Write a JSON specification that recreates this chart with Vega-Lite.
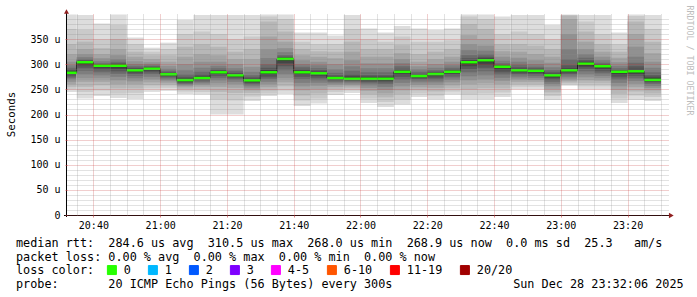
{
"$schema":"https://vega.github.io/schema/vega-lite/v6.json",
"width":601,"height":201,
"autosize":{"type":"none"},
"padding":{"left":67,"top":14,"right":29,"bottom":82},
"background":"#ffffff",
"config":{"view":{"stroke":null},"font":"DejaVu Sans Mono"},
"title":{
 "text":["median\u00a0rtt:\u00a0\u00a0284.6\u00a0us\u00a0avg\u00a0\u00a0310.5\u00a0us\u00a0max\u00a0\u00a0268.0\u00a0us\u00a0min\u00a0\u00a0268.9\u00a0us\u00a0now\u00a0\u00a00.0\u00a0ms\u00a0sd\u00a0\u00a025.3\u00a0\u00a0\u00a0am/s",
 "packet\u00a0loss:\u00a00.00\u00a0%\u00a0avg\u00a0\u00a00.00\u00a0%\u00a0max\u00a0\u00a00.00\u00a0%\u00a0min\u00a0\u00a00.00\u00a0%\u00a0now"],
 "subtitle":"probe:\u00a0\u00a0\u00a0\u00a0\u00a0\u00a0\u00a020\u00a0ICMP\u00a0Echo\u00a0Pings\u00a0(56\u00a0Bytes)\u00a0every\u00a0300s\u00a0\u00a0\u00a0\u00a0\u00a0\u00a0\u00a0\u00a0\u00a0\u00a0\u00a0\u00a0\u00a0\u00a0\u00a0\u00a0\u00a0Sun\u00a0Dec\u00a028\u00a023:32:06\u00a02025",
 "subtitleFont":"DejaVu Sans Mono","subtitleFontSize":11.8,"subtitleFontWeight":"normal","subtitleColor":"#000000","subtitlePadding":15.5,"subtitleLineHeight":13.8,
 "orient":"bottom","anchor":"start","frame":"group","dx":-51,"dy":-46.5,"offset":7,
 "font":"DejaVu Sans Mono","fontSize":11.8,"fontWeight":"normal","color":"#000000","lineHeight":14,"baseline":"top"
},
"datasets":{
 "smoke":[
  {"s":30,"e":35,"k":[1,2,3,4,5,6,7,8,9,10],"l":[245,250,255,260,265,270,273,276,279,281],"h":[399,370,340,320,305,298,293,290,287,285]},
  {"s":35,"e":40,"k":[1,2,3,4,5,6,7,8,9,10],"l":[232,245,255,265,272,280,287,293,298,301],"h":[398,368,345,330,320,314,310,308,306,305]},
  {"s":40,"e":45,"k":[1,2,3,4,5,6,7,8,9,10],"l":[237,248,258,265,272,278,284,288,292,295],"h":[381,350,332,320,312,306,302,300,299,298]},
  {"s":45,"e":50,"k":[1,2,3,4,5,6,7,8,9,10],"l":[233,242,252,260,268,275,281,286,290,294],"h":[399,378,350,330,318,310,305,302,300,299]},
  {"s":50,"e":55,"k":[1,2,3,4,5,6,7,8,9,10],"l":[231,243,252,260,266,272,277,281,284,286],"h":[353,340,325,315,306,300,296,293,291,290]},
  {"s":55,"e":60,"k":[1,2,3,4,5,6,7,8,9,10],"l":[245,252,258,264,270,275,280,284,287,289],"h":[333,325,318,310,304,300,297,295,293,292]},
  {"s":60,"e":65,"k":[1,2,3,4,5,6,7,8,9,10],"l":[247,253,258,262,266,269,272,275,277,279],"h":[343,330,318,305,297,291,287,284,282,281]},
  {"s":65,"e":70,"k":[1,2,3,4,5,6,7,8,9,10],"l":[241,246,250,254,257,259,261,263,265,267],"h":[388,360,335,315,300,288,280,275,272,270]},
  {"s":70,"e":75,"k":[1,2,3,4,5,6,7,8,9,10],"l":[240,245,250,255,259,262,265,268,270,271],"h":[398,365,340,320,305,293,285,280,276,274]},
  {"s":75,"e":80,"k":[1,2,3,4,5,6,7,8,9,10],"l":[200,230,245,255,262,268,273,277,280,282],"h":[398,360,335,318,305,297,292,289,287,286]},
  {"s":80,"e":85,"k":[1,2,3,4,5,6,7,8,9,10],"l":[200,228,243,253,260,265,269,272,275,276],"h":[398,350,325,310,300,292,287,283,281,280]},
  {"s":85,"e":90,"k":[1,2,3,4,5,6,7,8,9,10],"l":[227,236,243,248,252,256,259,262,264,266],"h":[398,355,330,310,295,285,278,274,271,270]},
  {"s":90,"e":95,"k":[1,2,3,4,5,6,7,8,9,10],"l":[237,242,248,254,260,265,270,274,278,281],"h":[399,395,385,355,330,312,300,293,289,287]},
  {"s":95,"e":100,"k":[1,2,3,4,5,6,7,8,9,10],"l":[241,248,256,264,272,280,288,296,302,307],"h":[399,390,365,345,332,324,318,315,313,312]},
  {"s":100,"e":105,"k":[1,2,3,4,5,6,7,8,9,10],"l":[217,228,238,248,256,263,270,275,279,282],"h":[363,345,330,318,308,300,295,291,288,286]},
  {"s":105,"e":110,"k":[1,2,3,4,5,6,7,8,9,10],"l":[222,232,242,250,257,263,268,273,277,280],"h":[363,340,326,315,305,298,292,288,285,284]},
  {"s":110,"e":115,"k":[1,2,3,4,5,6,7,8,9,10],"l":[239,245,250,255,259,262,265,268,270,271],"h":[357,340,325,312,300,290,283,278,275,274]},
  {"s":115,"e":120,"k":[1,2,3,4,5,6,7,8,9,10],"l":[243,248,252,256,259,262,265,267,269,270],"h":[398,370,345,325,308,296,287,280,276,273]},
  {"s":120,"e":125,"k":[1,2,3,4,5,6,7,8,9,10],"l":[223,232,240,247,253,258,262,265,268,270],"h":[371,350,330,315,302,292,284,278,275,273]},
  {"s":125,"e":130,"k":[1,2,3,4,5,6,7,8,9,10],"l":[215,225,234,242,249,255,260,264,267,269],"h":[363,345,330,315,302,292,284,278,275,273]},
  {"s":130,"e":135,"k":[1,2,3,4,5,6,7,8,9,10],"l":[220,230,240,248,256,263,269,275,279,283],"h":[376,355,338,322,310,302,296,291,288,287]},
  {"s":135,"e":140,"k":[1,2,3,4,5,6,7,8,9,10],"l":[235,242,248,254,259,264,268,271,273,275],"h":[371,345,320,305,296,290,285,281,279,278]},
  {"s":140,"e":145,"k":[1,2,3,4,5,6,7,8,9,10],"l":[230,238,246,253,259,264,268,272,276,279],"h":[368,345,325,310,300,293,288,285,283,282]},
  {"s":145,"e":150,"k":[1,2,3,4,5,6,7,8,9,10],"l":[240,246,252,258,264,269,274,278,281,283],"h":[371,348,330,315,305,298,293,290,288,286]},
  {"s":150,"e":155,"k":[1,2,3,4,5,6,7,8,9,10],"l":[230,240,250,260,268,276,284,290,296,300],"h":[399,395,380,358,340,328,318,312,308,306]},
  {"s":155,"e":160,"k":[1,2,3,4,5,6,7,8,9,10],"l":[230,242,252,262,270,278,286,293,299,304],"h":[399,390,370,350,337,327,320,315,312,310]},
  {"s":160,"e":165,"k":[1,2,3,4,5,6,7,8,9,10],"l":[235,244,252,260,267,273,279,284,288,292],"h":[395,360,340,326,315,307,302,299,297,296]},
  {"s":165,"e":170,"k":[1,2,3,4,5,6,7,8,9,10],"l":[250,255,260,265,270,274,278,281,284,286],"h":[398,365,340,325,313,305,299,294,291,289]},
  {"s":170,"e":175,"k":[1,2,3,4,5,6,7,8,9,10],"l":[250,255,260,265,269,273,277,280,283,285],"h":[398,360,337,320,308,300,295,292,290,288]},
  {"s":175,"e":180,"k":[1,2,3,4,5,6,7,8,9,10],"l":[229,237,244,250,256,261,265,269,273,276],"h":[378,350,330,315,303,294,288,284,281,279]},
  {"s":180,"e":185,"k":[1,2,3,4,5,6,7,8,9,10],"l":[257,260,263,266,270,274,278,281,284,286],"h":[399,398,397,390,360,330,310,298,292,290]},
  {"s":185,"e":190,"k":[1,2,3,4,5,6,7,8,9,10],"l":[250,256,262,268,274,280,286,291,295,298],"h":[398,385,365,345,330,320,313,308,305,303]},
  {"s":190,"e":195,"k":[1,2,3,4,5,6,7,8,9,10],"l":[250,256,262,267,272,277,282,286,290,293],"h":[398,360,340,325,315,308,303,300,298,297]},
  {"s":195,"e":200,"k":[1,2,3,4,5,6,7,8,9,10],"l":[223,232,241,249,256,263,269,274,278,282],"h":[363,340,325,313,304,297,292,289,287,286]},
  {"s":200,"e":205,"k":[1,2,3,4,5,6,7,8,9,10],"l":[229,238,246,254,261,267,272,277,280,283],"h":[399,396,385,360,335,315,303,296,291,288]},
  {"s":205,"e":210,"k":[1,2,3,4,5,6,7,8,9,10],"l":[227,235,242,248,253,257,261,264,266,268],"h":[398,370,345,322,305,293,284,278,274,272]}
 ],
 "med":[
  {"s":30,"e":35,"m":283,"loss":"0"},{"s":35,"e":40,"m":304,"loss":"0"},{"s":40,"e":45,"m":297,"loss":"0"},{"s":45,"e":50,"m":297,"loss":"0"},
  {"s":50,"e":55,"m":288,"loss":"0"},{"s":55,"e":60,"m":291,"loss":"0"},{"s":60,"e":65,"m":280,"loss":"0"},{"s":65,"e":70,"m":268.5,"loss":"0"},
  {"s":70,"e":75,"m":272.5,"loss":"0"},{"s":75,"e":80,"m":284,"loss":"0"},{"s":80,"e":85,"m":278,"loss":"0"},{"s":85,"e":90,"m":268,"loss":"0"},
  {"s":90,"e":95,"m":284,"loss":"0"},{"s":95,"e":100,"m":310.5,"loss":"0"},{"s":100,"e":105,"m":284,"loss":"0"},{"s":105,"e":110,"m":282,"loss":"0"},
  {"s":110,"e":115,"m":272.5,"loss":"0"},{"s":115,"e":120,"m":271,"loss":"0"},{"s":120,"e":125,"m":271,"loss":"0"},{"s":125,"e":130,"m":271,"loss":"0"},
  {"s":130,"e":135,"m":285,"loss":"0"},{"s":135,"e":140,"m":276.5,"loss":"0"},{"s":140,"e":145,"m":280.5,"loss":"0"},{"s":145,"e":150,"m":285,"loss":"0"},
  {"s":150,"e":155,"m":304,"loss":"0"},{"s":155,"e":160,"m":308,"loss":"0"},{"s":160,"e":165,"m":295,"loss":"0"},{"s":165,"e":170,"m":288,"loss":"0"},
  {"s":170,"e":175,"m":287,"loss":"0"},{"s":175,"e":180,"m":278,"loss":"0"},{"s":180,"e":185,"m":288,"loss":"0"},{"s":185,"e":190,"m":301,"loss":"0"},
  {"s":190,"e":195,"m":296,"loss":"0"},{"s":195,"e":200,"m":285,"loss":"0"},{"s":200,"e":205,"m":286,"loss":"0"},{"s":205,"e":210,"m":268.9,"loss":"0"},
  {"s":210,"m":268.9}
 ]
},
"layer":[
 {
  "data":{"name":"smoke"},
  "transform":[{"flatten":["k","l","h"]}],
  "mark":{"type":"rect","clip":true},
  "encoding":{
   "x":{"field":"s","type":"quantitative","scale":{"domain":[32.1,212.1],"nice":false,"zero":false},
     "axis":{"values":[40,60,80,100,120,140,160,180,200],
       "labelExpr":"format(floor(datum.value/60)+20,'02d') + ':' + format(datum.value%60,'02d')",
       "grid":true,"gridColor":"#c83c3c","gridOpacity":0.5,"gridDash":[1,1],
       "domain":false,"ticks":true,"tickSize":2,"tickColor":"#c83c3c","tickOpacity":0.6,
       "labelFont":"DejaVu Sans Mono","labelFontSize":10,"labelColor":"#000000","labelPadding":3,
       "labelFlush":false,"labelOverlap":false,"title":null,"zindex":1}},
   "x2":{"field":"e"},
   "y":{"field":"l","type":"quantitative","scale":{"domain":[0,400],"nice":false,"zero":false},
     "axis":{"values":[0,50,100,150,200,250,300,350],
       "labelExpr":"datum.value == 0 ? '0\u00a0\u00a0' : datum.value + ' u'",
       "grid":true,"gridColor":"#c83c3c","gridOpacity":0.5,"gridDash":[1,1],
       "domain":false,"ticks":true,"tickSize":2,"tickColor":"#c83c3c","tickOpacity":0.6,
       "labelFont":"DejaVu Sans Mono","labelFontSize":10,"labelColor":"#000000","labelPadding":5,
       "labelFlush":false,"labelOverlap":false,
       "title":"Seconds","titleFont":"DejaVu Sans Mono","titleFontSize":10.8,"titleFontWeight":"normal","titleColor":"#000000",
       "titleAngle":270,"titleX":-56,"titleY":100,"titleAlign":"center","titleBaseline":"middle","zindex":1}},
   "y2":{"field":"h"},
   "fill":{"field":"k","type":"ordinal","scale":{"domain":[1,2,3,4,5,6,7,8,9,10],
     "range":["#dddddd","#cacaca","#b7b7b7","#a4a4a4","#919191","#7e7e7e","#6b6b6b","#585858","#454545","#323232"]},"legend":null}
  }
 },
 {
  "data":{"name":"med"},
  "mark":{"type":"line","interpolate":"step-after","color":"#202020","strokeWidth":1,"clip":true},
  "encoding":{
   "x":{"field":"s","type":"quantitative","scale":{"domain":[32.1,212.1],"nice":false,"zero":false},
     "axis":{"orient":"bottom","values":[35,45,50,55,65,70,75,85,90,95,105,110,115,125,130,135,145,150,155,165,170,175,185,190,195,205,210],
       "grid":true,"gridColor":"#8c8c8c","gridOpacity":0.5,"gridDash":[1,1],
       "domain":false,"ticks":false,"labels":false,"title":null,"zindex":1}},
   "y":{"field":"m","type":"quantitative","scale":{"domain":[0,400],"nice":false,"zero":false},
     "axis":{"orient":"right","values":[10,20,30,40,60,70,80,90,110,120,130,140,160,170,180,190,210,220,230,240,260,270,280,290,310,320,330,340,360,370,380,390],
       "grid":true,"gridColor":"#8c8c8c","gridOpacity":0.5,"gridDash":[1,1],
       "domain":false,"ticks":false,"labels":false,
       "title":"RRDTOOL / TOBI OETIKER","titleFont":"DejaVu Sans Mono","titleFontSize":8.3,"titleFontWeight":"normal","titleColor":"#bdbdbd",
       "titleAngle":90,"titleX":20,"titleY":46,"titleAlign":"center","titleBaseline":"middle","zindex":1}}
  }
 },
 {
  "data":{"name":"med"},
  "transform":[{"filter":"isValid(datum.e)"}],
  "mark":{"type":"rule","strokeWidth":2.5,"clip":true},
  "encoding":{
   "x":{"field":"s","type":"quantitative","scale":{"domain":[32.1,212.1],"nice":false,"zero":false},"axis":null},
   "x2":{"field":"e"},
   "y":{"field":"m","type":"quantitative","scale":{"domain":[0,400],"nice":false,"zero":false},"axis":null},
   "stroke":{"field":"loss","type":"nominal",
     "scale":{"domain":["0","1","2","3","4-5","6-10","11-19","20/20"],
       "range":["#26ff00","#00b8ff","#0059ff","#7e00ff","#ff00ff","#ff5500","#ff0000","#a10000"]},
     "legend":{"orient":"none","legendX":-51,"legendY":250,"direction":"horizontal","columns":8,
       "title":"loss\u00a0color:","titleOrient":"left","titleFont":"DejaVu Sans Mono","titleFontSize":11.8,"titleFontWeight":"normal",
       "titleColor":"#000000","titlePadding":11,"titleBaseline":"middle",
       "labelFont":"DejaVu Sans Mono","labelFontSize":11.8,"labelColor":"#000000","labelOffset":6,"columnPadding":15,
       "symbolType":"square","symbolSize":81,"symbolStrokeWidth":1,"symbolStrokeColor":"#000000","symbolOpacity":1,"padding":0,
       "encode":{"symbols":{"update":{"fill":{"scale":"stroke","field":"value"},"stroke":{"value":"#000000"},"opacity":{"value":1}}}}}}
  }
 },
 {
  "data":{"values":[{}]},
  "mark":{"type":"rule","color":"#000000","strokeWidth":1,"clip":false},
  "encoding":{
   "x":{"datum":31.2,"type":"quantitative","scale":{"domain":[32.1,212.1],"nice":false,"zero":false},"axis":null},
   "x2":{"datum":213.0},
   "y":{"datum":-1,"type":"quantitative","scale":{"domain":[0,400],"nice":false,"zero":false},"axis":null}
  }
 },
 {
  "data":{"values":[{}]},
  "mark":{"type":"rule","color":"#000000","strokeWidth":1,"clip":false},
  "encoding":{
   "x":{"datum":31.95,"type":"quantitative","scale":{"domain":[32.1,212.1],"nice":false,"zero":false},"axis":null},
   "y":{"datum":-4,"type":"quantitative","scale":{"domain":[0,400],"nice":false,"zero":false},"axis":null},
   "y2":{"datum":404}
  }
 },
 {
  "data":{"values":[{}]},
  "mark":{"type":"point","filled":true,"shape":"triangle-right","size":30,"color":"#902020","opacity":1,"clip":false},
  "encoding":{
   "x":{"datum":213.1,"type":"quantitative","scale":{"domain":[32.1,212.1],"nice":false,"zero":false},"axis":null},
   "y":{"datum":-1,"type":"quantitative","scale":{"domain":[0,400],"nice":false,"zero":false},"axis":null}
  }
 },
 {
  "data":{"values":[{}]},
  "mark":{"type":"point","filled":true,"shape":"triangle-up","size":25,"color":"#902020","opacity":1,"clip":false},
  "encoding":{
   "x":{"datum":31.95,"type":"quantitative","scale":{"domain":[32.1,212.1],"nice":false,"zero":false},"axis":null},
   "y":{"datum":405,"type":"quantitative","scale":{"domain":[0,400],"nice":false,"zero":false},"axis":null}
  }
 }
],
"resolve":{"axis":{"x":"independent","y":"independent"}}
}
